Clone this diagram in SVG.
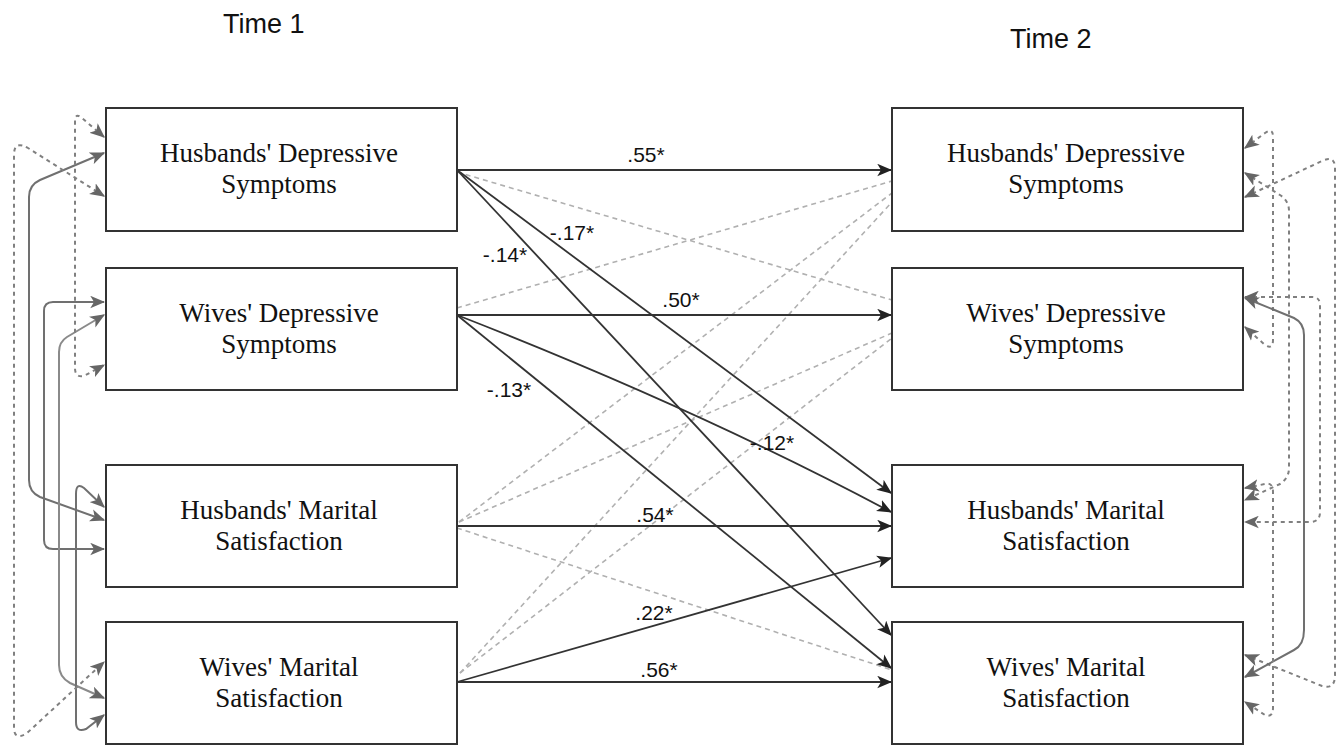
<svg xmlns="http://www.w3.org/2000/svg" width="1344" height="746" viewBox="0 0 1344 746">
<style>
.box{fill:#fff;stroke:#333;stroke-width:2}
.lbl{font-family:"Liberation Serif","Times New Roman",serif;font-size:27px;fill:#111;text-anchor:middle}
.coef{font-family:"Liberation Sans",Arial,sans-serif;font-size:21px;fill:#111;text-anchor:middle}
.time{font-family:"Liberation Sans",Arial,sans-serif;font-size:27px;fill:#111}
.sig{fill:none;stroke:#333;stroke-width:1.8;marker-end:url(#ab)}
.ns{fill:none;stroke:#b0b0b0;stroke-width:1.6;stroke-dasharray:5 4}
.cs{fill:none;stroke:#707070;stroke-width:2;marker-start:url(#ag);marker-end:url(#ag)}
.cd{fill:none;stroke:#808080;stroke-width:2;stroke-dasharray:4 4;marker-start:url(#ag);marker-end:url(#ag)}
</style>
<defs>
<marker id="ab" viewBox="0 0 12 10" refX="11" refY="5" markerWidth="15" markerHeight="13" markerUnits="userSpaceOnUse" orient="auto"><path d="M0,0 L12,5 L0,10 L3,5 z" fill="#222"/></marker>
<marker id="ag" viewBox="0 0 12 10" refX="11" refY="5" markerWidth="15" markerHeight="13" markerUnits="userSpaceOnUse" orient="auto-start-reverse"><path d="M0,0 L12,5 L0,10 L3,5 z" fill="#666"/></marker>
</defs>
<text class="time" x="223" y="33">Time 1</text>
<text class="time" x="1010" y="48">Time 2</text>
<g id="connectors">
<path class="ns" d="M457,172 L892,300"/>
<path class="ns" d="M457,308 L892,181"/>
<path class="ns" d="M459,522 L892,193"/>
<path class="ns" d="M459,522 L892,333"/>
<path class="ns" d="M457,528 L892,670"/>
<path class="ns" d="M460,673 L892,202"/>
<path class="ns" d="M460,673 L892,338"/>
<path class="sig" d="M457,170 L891,170"/>
<path class="sig" d="M457,170 L891,493"/>
<path class="sig" d="M457,170 L891,635"/>
<path class="sig" d="M457,315 L891,315"/>
<path class="sig" d="M457,315 Q700,410 891,512"/>
<path class="sig" d="M457,315 L891,668"/>
<path class="sig" d="M457,526 L891,526"/>
<path class="sig" d="M457,682 L891,558"/>
<path class="sig" d="M457,682 L891,682"/>
<path class="cs" d="M104,153 L40,180 Q29,185 29,197 L29,480 Q29,492 40,497 L104,520"/>
<path class="cs" d="M104,302 L53,302 Q44,302 44,311 L44,540 Q44,549 53,549 L104,549"/>
<path class="cs" style="stroke:#8a8a8a" d="M104,315 L67,337 Q59,342 59,352 L59,665 Q59,677 70,683 L104,698"/>
<path class="cs" d="M104,507 L84,488 Q76,482 76,494 L76,722 Q76,733 86,729 L104,715"/>
<path class="cd" d="M104,137 L82,118 Q75,112 75,122 L75,368 Q75,378 84,376 L104,365"/>
<path class="cd" d="M104,196 L28,148 Q14,140 14,155 L14,728 Q14,740 26,734 L104,662"/>
<path class="cd" d="M1245,148 L1265,133 Q1273,127 1273,137 L1273,340 Q1273,350 1265,345 L1245,327"/>
<path class="cd" d="M1245,173 L1280,195 Q1289,201 1289,211 L1289,468 Q1289,478 1280,484 L1245,500"/>
<path class="cd" d="M1245,197 L1322,161 Q1335,155 1335,168 L1335,675 Q1335,690 1322,686 L1245,655"/>
<path class="cd" d="M1245,297 L1312,297 Q1320,297 1320,305 L1320,512 Q1320,522 1310,522 L1245,522"/>
<path class="cs" d="M1245,298 L1294,318 Q1304,323 1304,335 L1304,630 Q1304,645 1294,650 L1245,677"/>
<path class="cd" d="M1245,488 L1265,484 Q1273,482 1273,492 L1273,708 Q1273,718 1265,715 L1245,702"/>
</g>
<g id="coefficients">
<text class="coef" x="646" y="162">.55*</text>
<text class="coef" x="572" y="240">-.17*</text>
<text class="coef" x="505" y="262">-.14*</text>
<text class="coef" x="681" y="307">.50*</text>
<text class="coef" x="509" y="397">-.13*</text>
<text class="coef" x="772" y="450">-.12*</text>
<text class="coef" x="655" y="522">.54*</text>
<text class="coef" x="654" y="620">.22*</text>
<text class="coef" x="659" y="677">.56*</text>
</g>
<g id="hd1"><rect class="box" x="106" y="108" width="351" height="123"/><text class="lbl" x="279" y="162">Husbands' Depressive</text><text class="lbl" x="279" y="193">Symptoms</text></g>
<g id="wd1"><rect class="box" x="106" y="268" width="351" height="122"/><text class="lbl" x="279" y="321.5">Wives' Depressive</text><text class="lbl" x="279" y="352.5">Symptoms</text></g>
<g id="hm1"><rect class="box" x="106" y="465" width="351" height="122"/><text class="lbl" x="279" y="518.5">Husbands' Marital</text><text class="lbl" x="279" y="549.5">Satisfaction</text></g>
<g id="wm1"><rect class="box" x="106" y="622" width="351" height="122"/><text class="lbl" x="279" y="675.5">Wives' Marital</text><text class="lbl" x="279" y="706.5">Satisfaction</text></g>
<g id="hd2"><rect class="box" x="892" y="108" width="351" height="123"/><text class="lbl" x="1066" y="162">Husbands' Depressive</text><text class="lbl" x="1066" y="193">Symptoms</text></g>
<g id="wd2"><rect class="box" x="892" y="268" width="351" height="122"/><text class="lbl" x="1066" y="321.5">Wives' Depressive</text><text class="lbl" x="1066" y="352.5">Symptoms</text></g>
<g id="hm2"><rect class="box" x="892" y="465" width="351" height="122"/><text class="lbl" x="1066" y="518.5">Husbands' Marital</text><text class="lbl" x="1066" y="549.5">Satisfaction</text></g>
<g id="wm2"><rect class="box" x="892" y="622" width="351" height="122"/><text class="lbl" x="1066" y="675.5">Wives' Marital</text><text class="lbl" x="1066" y="706.5">Satisfaction</text></g>
</svg>
